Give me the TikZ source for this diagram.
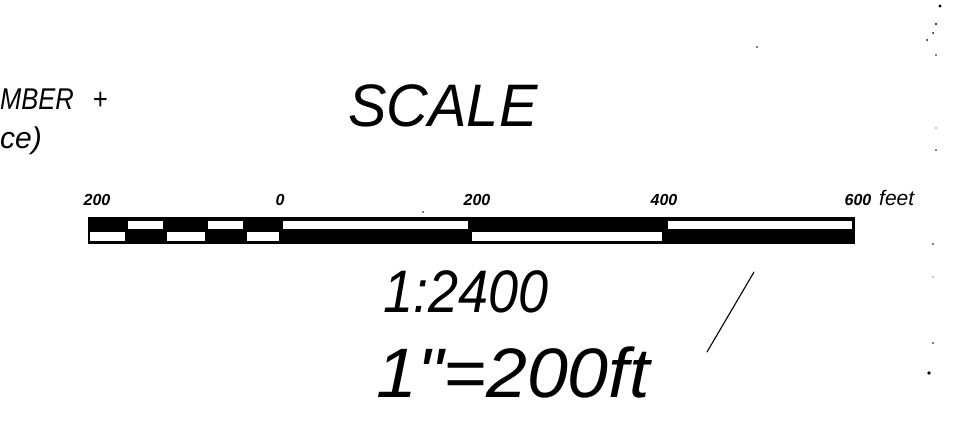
\documentclass[tikz,border=0pt]{standalone}
\usepackage{fontspec}
\setmainfont{Liberation Sans}
\newfontfamily\handraw{Liberation Sans}[Ligatures=TeXOff]
\begin{document}
\begin{tikzpicture}[x=1pt,y=-1pt,
  hand/.style={inner sep=0pt, anchor=base, text=black},
  lbl/.style={hand, font=\bfseries\itshape\fontsize{16}{18}\selectfont},
  whitebit/.style={fill=white},
  speck/.style={fill=black, draw=none}]
\useasboundingbox (0,0) rectangle (971,433);
\fill[white] (0,0) rectangle (971,433);

% left, cut-off note
\node[hand, anchor=base west, xscale=0.85, font=\itshape\fontsize{30}{34}\selectfont] (note1) at (0,110) {MBER\hspace{22pt}+};
\node[hand, anchor=base west, font=\itshape\fontsize{30}{34}\selectfont] (note2) at (0,148) {ce)};

% title
\node[hand, font=\itshape\fontsize{60}{70}\selectfont, xscale=0.96] (title) at (443,127) {SCALE};

% scale bar
\fill[black] (88,217) rectangle (855,244);
\foreach \a/\b in {90/125,167/205,247/279,472/662}
  \fill[whitebit] (\a,232) rectangle (\b,241);
\foreach \a/\b in {128/163,208/243,283/468,668/852}
  \fill[whitebit] (\a,221) rectangle (\b,229);

% tick labels
\node[lbl] (l200a) at (97,205) {200};
\node[lbl] (l0) at (280,205) {0};
\node[lbl] (l200) at (477,205) {200};
\node[lbl] (l400) at (664,205) {400};
\node[lbl] (l600) at (858,205) {600};
\node[hand, anchor=base west, font=\itshape\fontsize{21}{24}\selectfont] (feet) at (879,205) {feet};

% ratios
\node[hand, font=\itshape\fontsize{60}{70}\selectfont, xscale=0.9] (ratio) at (466,312) {1:2400};
\node[hand, font=\handraw\itshape\fontsize{70}{80}\selectfont, xscale=1.05] (equiv) at (513,397) {1"=200ft};

% stray pen stroke
\coordinate (s1) at (754,272);
\coordinate (s2) at (707,352);
\draw[line width=1.1pt, line cap=round] (s1) -- (s2);

% specks along the right edge
\foreach \px/\py/\r in {940/6/1.6, 936/24/1.2, 933/33/1.0, 927/40/1.0, 936/55/0.8,
  936/128/0.7, 936/150/0.8, 933/244/0.8, 933/277/0.7, 933/343/0.8, 929/373/1.8,
  757/47/0.9, 423/212/0.9}
  \fill[speck] (\px,\py) circle (\r);
\end{tikzpicture}
\end{document}
